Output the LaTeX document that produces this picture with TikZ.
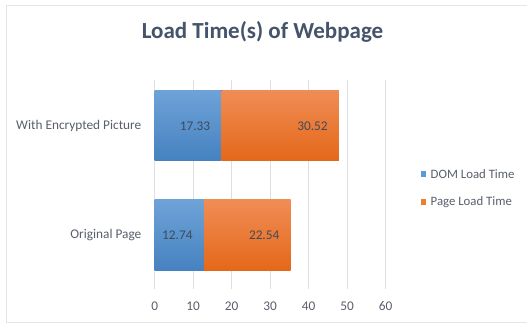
\documentclass[tikz,border=0pt]{standalone}
\usepackage{fontspec}
\setmainfont{Carlito}
\definecolor{frameclr}{HTML}{E2E5EB}
\definecolor{gridclr}{HTML}{DCDEE3}
\definecolor{titleclr}{HTML}{44546A}
\definecolor{labelclr}{HTML}{595F6B}
\definecolor{valclr}{HTML}{404A5A}
\definecolor{domtop}{HTML}{6EA3D7}
\definecolor{dombot}{HTML}{4682C1}
\definecolor{pagetop}{HTML}{F08D55}
\definecolor{pagebot}{HTML}{E4681A}
\definecolor{domkey}{HTML}{5B9BD5}
\definecolor{pagekey}{HTML}{ED7D31}
\tikzset{
  gridline/.style={draw=gridclr, line width=1pt},
  dombar/.style={top color=domtop, bottom color=dombot, draw=none},
  pagebar/.style={top color=pagetop, bottom color=pagebot, draw=none},
  catlabel/.style={anchor=east, text=labelclr, font=\fontsize{13.3}{15}\selectfont, inner sep=0pt},
  ticklabel/.style={anchor=center, text=labelclr, font=\fontsize{13.3}{15}\selectfont, inner sep=0pt},
  vallabel/.style={anchor=east, text=valclr, font=\fontsize{13.3}{15}\selectfont, inner sep=0pt},
  keylabel/.style={anchor=west, text=labelclr, font=\fontsize{12.8}{15}\selectfont, inner sep=0pt},
}
\begin{document}
\begin{tikzpicture}[x=1pt, y=-1pt]
  \useasboundingbox (0,0) rectangle (528,324);
  \fill[white] (0,0) rectangle (528,324);
  % chart frame
  \draw[frameclr, line width=1.2pt] (527,5.5) -- (6.5,5.5) -- (6.5,322.8) -- (527,322.8);
  % title
  \node[text=titleclr, font=\fontsize{23}{26}\bfseries] (title) at (262.5,31.5) {Load Time(s) of Webpage};
  % vertical grid lines and tick labels (10 units = 38.5pt)
  \foreach \v [count=\i from 0] in {0,10,20,30,40,50,60} {
    \draw[gridline] ({154.7+3.85*\v},80) -- ({154.7+3.85*\v},289);
    \node[ticklabel] (tick\i) at ({154.7+3.85*\v},306) {\v};
  }
  % bars: With Encrypted Picture
  \fill[dombar] (154.7,90) rectangle ({154.7+3.85*17.33},160);
  \fill[pagebar] ({154.7+3.85*17.33},90) rectangle ({154.7+3.85*47.85},160);
  % bars: Original Page
  \fill[dombar] (154.7,199.5) rectangle ({154.7+3.85*12.74},270);
  \fill[pagebar] ({154.7+3.85*12.74},199.5) rectangle ({154.7+3.85*35.28},270);
  % value labels
  \node[vallabel] (v1) at ({154.7+3.85*17.33-11},126) {17.33};
  \node[vallabel] (v2) at ({154.7+3.85*47.85-11},126) {30.52};
  \node[vallabel] (v3) at ({154.7+3.85*12.74-11},235.5) {12.74};
  \node[vallabel] (v4) at ({154.7+3.85*35.28-11},235.5) {22.54};
  % category labels
  \node[catlabel] (catA) at (141.5,126) {With Encrypted Picture};
  \node[catlabel] (catB) at (141.5,235.5) {Original Page};
  % legend
  \fill[domkey] (420.8,171.2) rectangle (426.3,176.7);
  \node[keylabel] (keyA) at (430.5,174.5) {DOM Load Time};
  \fill[pagekey] (420.8,199.2) rectangle (426.3,204.7);
  \node[keylabel] (keyB) at (430.5,202.3) {Page Load Time};
\end{tikzpicture}
\end{document}
